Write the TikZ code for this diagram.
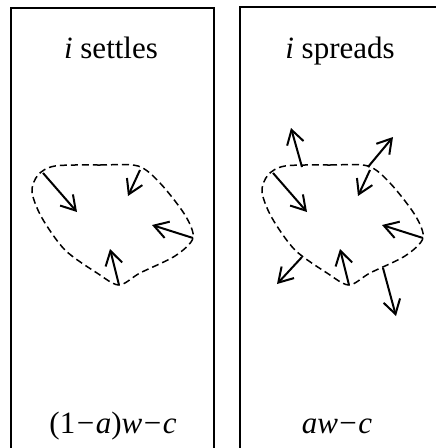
\documentclass[tikz,border=0pt]{standalone}
\usepackage{fontspec}
\setmainfont{Liberation Serif}
\usetikzlibrary{arrows.meta}

\newcommand{\mns}{\kern1.5pt−\kern1.5pt}

\tikzset{
  panel/.style={line width=2.2pt},
  boundary/.style={dash pattern=on 7pt off 4pt, line width=1.5pt},
  move/.style={line width=2pt, -{Straight Barb[length=14pt, width=17pt]}},
  caption/.style={font=\fontsize{31}{37}\selectfont, anchor=base},
}

\begin{document}
\begin{tikzpicture}[x = 1pt, y = -1pt]
    \clip (0,0) rectangle (436,448);

    % Riquadri
    \draw[panel] (11,470) |- (214,8) -- (214,470);
    \draw[panel] (240,470) |- (443,7) -- (443,470);

    % Titoli
    \node[caption] (settle) at (111,58) {\textit{i} settles};
    \node[caption] (spread) at (340,58) {\textit{i} spreads};

    % Payoff
    \node[caption] (paysettle) at (113,433) {(1\mns\textit{a})\textit{w}\mns\textit{c}};
    \node[caption] (payspread) at (337,433) {\textit{aw}\mns\textit{c}};

    % Regione tratteggiata e frecce verso l'interno (entrambi i riquadri)
    \foreach \dx in {0,230} {
        \begin{scope}[xshift=\dx]
            \draw[boundary] plot[smooth cycle, tension=0.5] coordinates {
                (55,166) (100,165) (138,166) (160,183) (185,215) (193,238)
                (175,256) (140,273) (119,285) (97,273) (65,250) (42,218)
                (32,192) (38,175)};
            \coordinate (in1) at (43,173);  \coordinate (to1) at (77,212);
            \coordinate (in2) at (140,170); \coordinate (to2) at (128,196);
            \coordinate (in3) at (193,238); \coordinate (to3) at (152,225);
            \coordinate (in4) at (119,285); \coordinate (to4) at (110,249);
            \draw[move] (in1) -- (to1);
            \draw[move] (in2) -- (to2);
            \draw[move] (in3) -- (to3);
            \draw[move] (in4) -- (to4);
        \end{scope}
    }

    % Frecce verso l'esterno (solo i spreads)
    \coordinate (out1) at (302,167); \coordinate (far1) at (291,128);
    \coordinate (out2) at (368,167); \coordinate (far2) at (393,137);
    \coordinate (out3) at (302,257); \coordinate (far3) at (277,284);
    \coordinate (out4) at (383,268); \coordinate (far4) at (396,316);
    \draw[move] (out1) -- (far1);
    \draw[move] (out2) -- (far2);
    \draw[move] (out3) -- (far3);
    \draw[move] (out4) -- (far4);

\end{tikzpicture}
\end{document}
